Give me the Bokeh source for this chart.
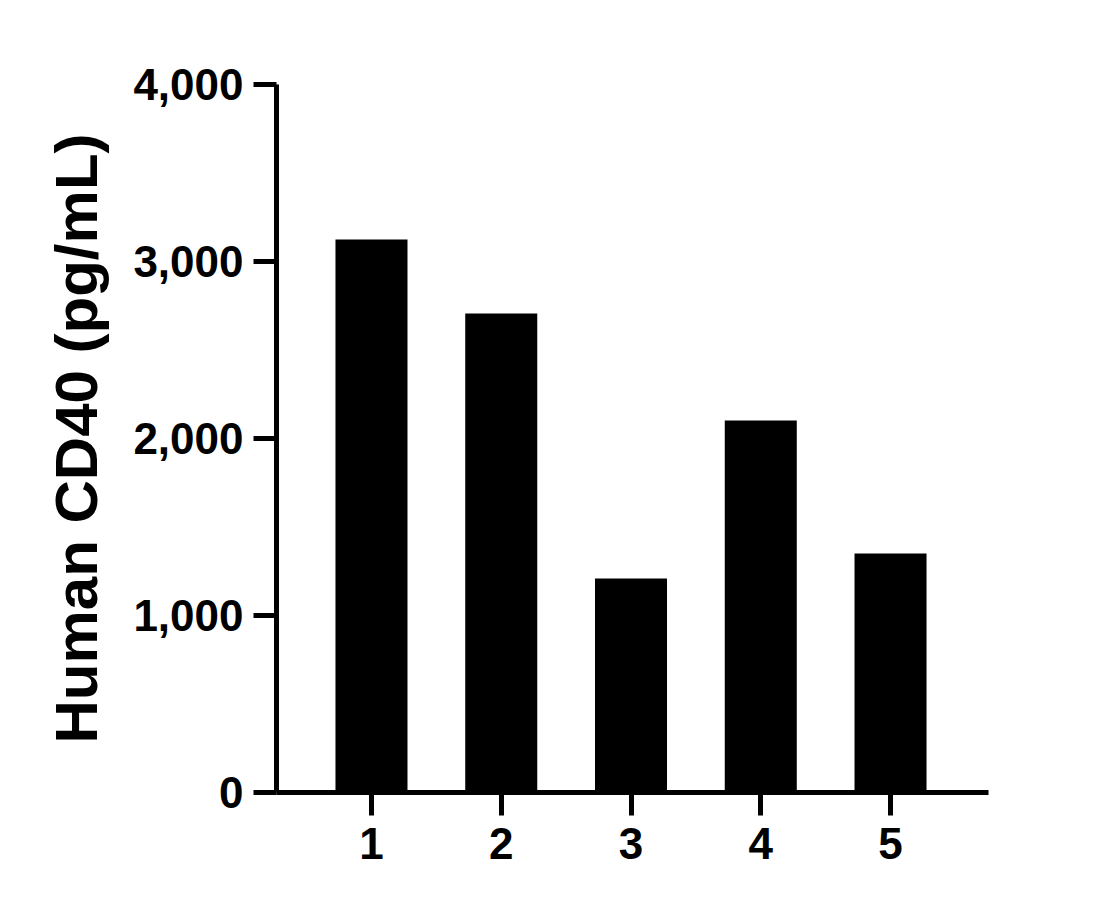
from bokeh.plotting import figure
from bokeh.models import FixedTicker, NumeralTickFormatter, Range1d
from bokeh.embed import file_html
from bokeh.resources import INLINE

categories = [1, 2, 3, 4, 5]
values = [3124, 2706, 1209, 2102, 1350]
y_ticks = [0, 1000, 2000, 3000, 4000]
y_label = "Human CD40 (pg/mL)"

p = figure(width=1100, height=890, output_backend="svg", toolbar_location=None,
           x_range=Range1d(0.268, 5.755), y_range=Range1d(0, 4000),
           min_border_left=276, min_border_right=112, min_border_top=84, min_border_bottom=98)

p.vbar(x=categories, top=values, width=0.555, color="black", line_color=None)

p.outline_line_color = None
p.xgrid.visible = False
p.ygrid.visible = False
p.background_fill_color = "white"

FONT = "Liberation Sans"
for ax in (p.xaxis[0], p.yaxis[0]):
    ax.axis_line_width = 5
    ax.axis_line_color = "black"
    ax.major_tick_line_width = 5
    ax.major_tick_line_color = "black"
    ax.major_tick_in = 0
    ax.major_tick_out = 23
    ax.minor_tick_line_color = None
    ax.major_label_text_font = FONT
    ax.major_label_text_font_style = "bold"
    ax.major_label_text_font_size = "44px"
    ax.major_label_text_color = "black"

p.xaxis[0].ticker = FixedTicker(ticks=categories)
p.xaxis[0].major_label_standoff = 12
p.yaxis[0].ticker = FixedTicker(ticks=y_ticks)
p.yaxis[0].formatter = NumeralTickFormatter(format="0,0")
p.yaxis[0].major_label_standoff = 10
p.yaxis[0].axis_label = y_label
p.yaxis[0].axis_label_text_font = FONT
p.yaxis[0].axis_label_text_font_style = "bold"
p.yaxis[0].axis_label_text_font_size = "60px"
p.yaxis[0].axis_label_text_color = "black"
p.yaxis[0].axis_label_standoff = 20

open("out.html", "w").write(file_html(p, INLINE))
